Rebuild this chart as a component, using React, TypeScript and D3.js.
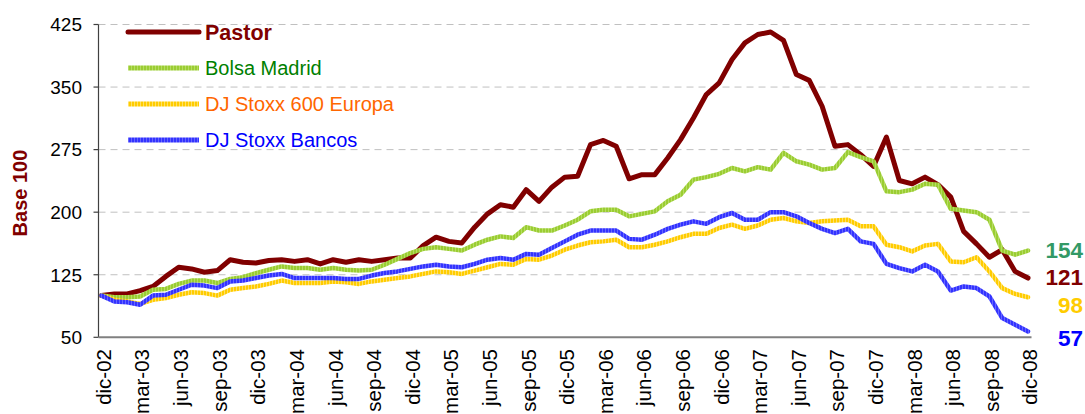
import React from "react";
import * as d3 from "d3";

// ---- Data (monthly, dic-02 .. dic-08, base 100) ----
const pastor = [
  100, 102, 102, 106, 111, 123, 134, 132, 128, 130, 143, 140, 139,
  142, 143, 141, 143, 138, 143, 140, 143, 141, 143, 145, 145,
  160, 170, 165, 163, 182, 198, 209, 206, 227, 213, 230, 242,
  243, 281, 286, 279, 240, 245, 245, 265, 287, 313, 341, 355,
  383, 403, 413, 416, 406, 365, 358, 327, 279, 281, 269, 255,
  290, 238, 234, 242, 233, 218, 177, 162, 146, 155, 129, 121,
];
const bolsaMadrid = [
  100, 98, 98, 99, 107, 108, 114, 118, 118, 115, 120, 122, 127,
  131, 135, 133, 133, 131, 133, 131, 130, 131, 137, 144, 151,
  156, 158, 156, 154, 161, 167, 171, 169, 182, 178, 178, 184,
  191, 201, 203, 203, 195, 198, 201, 213, 221, 239, 242, 246,
  253, 249, 254, 251, 271, 261, 257, 251, 253, 272, 266, 261,
  225, 224, 227, 234, 233, 204, 202, 200, 191, 154, 149, 154,
];
const stoxx600 = [
  100, 95, 93, 90, 95, 97, 101, 104, 103, 100, 107, 109, 111,
  114, 118, 115, 115, 115, 117, 116, 114, 117, 119, 121, 123,
  126, 129, 128, 126, 130, 134, 138, 137, 144, 143, 148, 155,
  160, 164, 165, 167, 158, 158, 161, 165, 170, 174, 174, 181,
  185, 180, 184, 191, 193, 189, 187, 189, 190, 191, 183, 183,
  161, 158, 153, 160, 162, 141, 140, 146, 129, 109, 102, 98,
];
const stoxxBancos = [
  100, 93, 92, 89, 100, 101, 107, 113, 112, 109, 117, 118, 121,
  124, 126, 121, 121, 121, 121, 120, 120, 124, 127, 129, 132,
  135, 137, 135, 134, 138, 143, 145, 143, 150, 149, 157, 165,
  173, 178, 178, 178, 168, 167, 173, 180, 185, 189, 186, 194,
  199, 191, 191, 200, 200, 195, 187, 180, 175, 180, 165, 162,
  138, 133, 129, 137, 129, 106, 111, 109, 99, 73, 65, 57,
];

const tickLabels = [
  "dic-02", "mar-03", "jun-03", "sep-03", "dic-03", "mar-04", "jun-04",
  "sep-04", "dic-04", "mar-05", "jun-05", "sep-05", "dic-05", "mar-06",
  "jun-06", "sep-06", "dic-06", "mar-07", "jun-07", "sep-07", "dic-07",
  "mar-08", "jun-08", "sep-08", "dic-08",
];
const yTicks = [50, 125, 200, 275, 350, 425];

const seriesNames = ["Pastor", "Bolsa Madrid", "DJ Stoxx 600 Europa", "DJ Stoxx Bancos"];
const seriesData = [pastor, bolsaMadrid, stoxx600, stoxxBancos];
const lineColors = ["#800000", "#9ACD32", "#FFCC00", "#3333FF"];
const stripeColors = ["#800000", "#B6DC62", "#FFE066", "#6666FF"];
const legendTextColors = ["#800000", "#008000", "#FF6600", "#0000FF"];
const endLabelColors = ["#800000", "#339966", "#FFCC00", "#0000FF"];
const endLabelNames = ["121", "154", "98", "57"];

const W = 1085;
const H = 414;
const FONT = "'Liberation Sans', Arial, sans-serif";

export default function App() {
  const x = d3.scaleLinear().domain([0, pastor.length - 1]).range([101.5, 1028]);
  const y = d3.scaleLinear().domain([50, 425]).range([337.3, 24.5]);
  const axisLeft = 98.5;
  const axisRight = 1031.5;

  const line = d3
    .line<number>()
    .x((_, i) => x(i))
    .y((d) => y(d));

  // end-label vertical offsets (layout only)
  const endOffsets = [7, 7.5, 16, 15];
  const legendY = [32, 68, 104, 140];

  return (
    <svg
      width={W}
      height={H}
      style={{ position: "absolute", left: 0, top: 0, background: "#fff" }}
      fontFamily={FONT}
    >
      <defs>
        {lineColors.map((c, k) => (
          <pattern
            key={k}
            id={`stripe${k}`}
            patternUnits="userSpaceOnUse"
            width={3}
            height={3}
          >
            <rect x={0} y={0} width={3} height={3} fill={c} />
            <rect x={2} y={0} width={1} height={3} fill={stripeColors[k]} />
          </pattern>
        ))}
      </defs>

      {/* gridlines */}
      {yTicks
        .filter((t) => t !== 50)
        .map((t) => (
          <line
            key={t}
            x1={axisLeft}
            x2={axisRight}
            y1={y(t)}
            y2={y(t)}
            stroke="#C0C0C0"
            strokeWidth={1}
            strokeDasharray="7,5"
          />
        ))}

      {/* y axis */}
      <line x1={axisLeft} x2={axisLeft} y1={y(425)} y2={y(50)} stroke="#404040" strokeWidth={1.2} />
      {yTicks.map((t) => (
        <g key={t}>
          <line x1={axisLeft - 5} x2={axisLeft} y1={y(t)} y2={y(t)} stroke="#404040" strokeWidth={1.2} />
          <text
            x={82}
            y={y(t)}
            dy="0.36em"
            textAnchor="end"
            fontSize={19}
            fill="#000"
          >
            {t}
          </text>
        </g>
      ))}

      {/* x axis */}
      <line x1={axisLeft} x2={axisRight} y1={y(50)} y2={y(50)} stroke="#808080" strokeWidth={2} />
      {tickLabels.map((lab, k) => {
        const xi = x(k * 3);
        return (
          <text
            key={lab}
            transform={`translate(${xi + 2},349) rotate(-90)`}
            dy="0.36em"
            textAnchor="end"
            fontSize={20.5}
            fill="#000"
          >
            {lab}
          </text>
        );
      })}

      {/* y title */}
      <text
        transform={`translate(27,193) rotate(-90)`}
        textAnchor="middle"
        fontSize={20}
        fontWeight="bold"
        fill="#800000"
      >
        Base 100
      </text>

      {/* series */}
      {seriesData.map((s, k) => (
        <path
          key={seriesNames[k]}
          d={line(s) || ""}
          fill="none"
          stroke={k === 0 ? lineColors[0] : `url(#stripe${k})`}
          strokeWidth={k === 0 ? 5 : 4.5}
          strokeLinejoin="round"
          strokeLinecap="round"
        />
      ))}

      {/* legend */}
      {seriesNames.map((n, k) => (
        <g key={n}>
          <line
            x1={128}
            x2={199}
            y1={legendY[k]}
            y2={legendY[k]}
            stroke={k === 0 ? lineColors[0] : `url(#stripe${k})`}
            strokeWidth={5}
            strokeLinecap={k === 0 ? "round" : "butt"}
          />
          <text
            x={205}
            y={legendY[k]}
            dy="0.36em"
            fontSize={k === 0 ? 21.5 : 20}
            fontWeight={k === 0 ? "bold" : "normal"}
            fill={legendTextColors[k]}
          >
            {n}
          </text>
        </g>
      ))}

      {/* end labels */}
      {seriesData.map((s, k) => (
        <text
          key={`end${k}`}
          x={1083}
          y={y(s[s.length - 1]) + endOffsets[k]}
          textAnchor="end"
          fontSize={22.5}
          fontWeight="bold"
          fill={endLabelColors[k]}
        >
          {String(s[s.length - 1])}
        </text>
      ))}
    </svg>
  );
}
